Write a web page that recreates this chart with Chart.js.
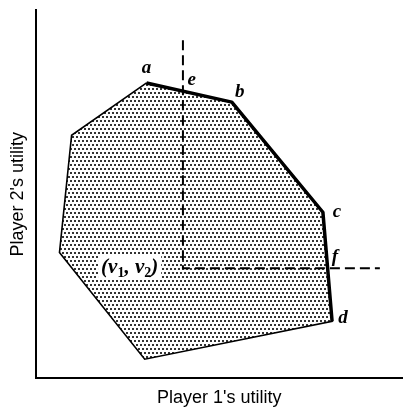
<!DOCTYPE html>
<html>
<head>
<meta charset="utf-8">
<script src="https://cdn.jsdelivr.net/npm/chart.js@4.4.1/dist/chart.umd.min.js"></script>
<style>
  html, body { margin: 0; padding: 0; background: #fff; }
  #wrap { width: 403px; height: 409px; position: relative; }
</style>
</head>
<body>
<div id="wrap"><canvas id="c"></canvas></div>
<script>
// Feasible utility region (closed polygon), in order
const regionX = [30.2, 53.4, 78.2, 80.7, 29.7, 6.5, 9.8, 30.2];
const regionY = [80.2, 75.0, 45.1, 15.5, 5.2, 34.2, 66.0, 80.2];
// Pareto frontier a-b-c-d (thick boundary)
const frontierX = [30.2, 53.4, 78.2, 80.7];
const frontierY = [80.2, 75.0, 45.1, 15.5];
// Dashed lines through threat point (v1, v2)
const dashX = [40.1, 40.1, 93.7];
const dashY = [91.8, 29.9, 29.9];
// Point labels
const labelText = ['a', 'e', 'b', 'c', 'f', 'd'];
const labelX = [30.2, 42.5, 55.6, 82.0, 81.5, 83.7];
const labelY = [84.2, 81.0, 77.7, 45.1, 32.9, 16.3];
// Threat point label "(v1, v2)" as [text, isSubscript] pieces
const threatParts = [['(v', false], ['1', true], [', v', false], ['2', true], [')', false]];
const threatLabelX = 25.6;
const threatLabelY = 30.2;

function zip(xs, ys) { return xs.map((x, i) => ({ x: x, y: ys[i] })); }

// stipple pattern
const pc = document.createElement('canvas');
pc.width = 8; pc.height = 8;
const pctx = pc.getContext('2d');
pctx.fillStyle = '#fff';
pctx.fillRect(0, 0, 8, 8);
pctx.fillStyle = '#333';
[[0,0],[4,0],[2,4],[6,4]].forEach(p => pctx.fillRect(p[0], p[1], 2, 2));
const stipple = pctx.createPattern(pc, 'repeat');

const labelPlugin = {
  id: 'labels',
  afterDatasetsDraw(chart) {
    const ctx = chart.ctx;
    const xs = chart.scales.x, ys = chart.scales.y;
    const fam = '"Liberation Serif", "DejaVu Serif", serif';
    ctx.save();
    ctx.fillStyle = '#000';
    ctx.textAlign = 'center';
    ctx.textBaseline = 'middle';
    ctx.font = 'bold italic 19px ' + fam;
    labelText.forEach((t, i) => {
      ctx.fillText(t, xs.getPixelForValue(labelX[i]), ys.getPixelForValue(labelY[i]));
    });
    // threat point label with subscripts
    const mainFont = 'bold italic 21px ' + fam;
    const subFont = 'bold 14px ' + fam;
    let total = 0;
    const widths = threatParts.map(p => {
      ctx.font = p[1] ? subFont : mainFont;
      const w = ctx.measureText(p[0]).width;
      total += w;
      return w;
    });
    const cx = xs.getPixelForValue(threatLabelX), cy = ys.getPixelForValue(threatLabelY);
    ctx.fillStyle = '#fff';
    ctx.fillRect(cx - total / 2 - 3, cy - 12, total + 6, 24);
    ctx.fillStyle = '#000';
    ctx.textAlign = 'left';
    ctx.textBaseline = 'alphabetic';
    let x = cx - total / 2;
    const base = cy + 6;
    threatParts.forEach((p, i) => {
      ctx.font = p[1] ? subFont : mainFont;
      ctx.fillText(p[0], x, p[1] ? base + 4 : base);
      x += widths[i];
    });
    ctx.restore();
  }
};

new Chart(document.getElementById('c'), {
  type: 'scatter',
  data: {
    datasets: [
      {
        data: zip(regionX, regionY),
        showLine: true,
        fill: 'shape',
        backgroundColor: stipple,
        borderColor: '#000',
        borderWidth: 1.6,
        pointRadius: 0,
        tension: 0
      },
      {
        data: zip(frontierX, frontierY),
        showLine: true,
        fill: false,
        borderColor: '#000',
        borderWidth: 3.5,
        pointRadius: 0,
        borderJoinStyle: 'round',
        tension: 0
      },
      {
        data: zip(dashX, dashY),
        showLine: true,
        fill: false,
        borderColor: '#000',
        borderWidth: 2,
        borderDash: [10, 5],
        pointRadius: 0,
        tension: 0
      }
    ]
  },
  options: {
    responsive: true,
    maintainAspectRatio: false,
    animation: false,
    layout: { padding: { top: 10, right: 0, left: 0, bottom: 0 } },
    plugins: {
      legend: { display: false },
      tooltip: { enabled: false },
      filler: { drawTime: 'beforeDatasetsDraw' }
    },
    scales: {
      x: {
        type: 'linear', min: 0, max: 100,
        grid: { display: false, drawTicks: false },
        border: { display: true, color: '#000', width: 2 },
        ticks: { display: false },
        title: {
          display: true, text: "Player 1's utility", color: '#000',
          font: { family: '"Liberation Sans", Arial, sans-serif', size: 18 },
          padding: { top: 9, bottom: 0 }
        }
      },
      y: {
        type: 'linear', min: 0, max: 100,
        grid: { display: false, drawTicks: false },
        border: { display: true, color: '#000', width: 2 },
        ticks: { display: false },
        title: {
          display: true, text: "Player 2's utility", color: '#000',
          font: { family: '"Liberation Sans", Arial, sans-serif', size: 18 },
          padding: { top: 7, bottom: 7 }
        }
      }
    }
  },
  plugins: [labelPlugin]
});
</script>
</body>
</html>
